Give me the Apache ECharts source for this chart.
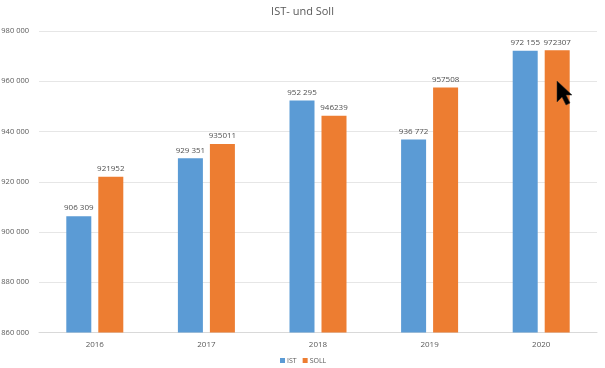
<!DOCTYPE html>
<html><head><meta charset="utf-8">
<style>html,body{margin:0;padding:0;background:#fff}#c{width:605px;height:368px}</style>
<script src="https://cdn.jsdelivr.net/npm/echarts@6/dist/echarts.min.js"></script>
</head><body><div id="c"></div>
<script>
const years = ['2016','2017','2018','2019','2020'];
const ist = [906309, 929351, 952295, 936772, 972155];
const soll = [921952, 935011, 946239, 957508, 972307];
const grp = v => String(v).replace(/(\d{3})(\d{3})/, '$1 $2');
const font = '"Open Sans"';
const chart = echarts.init(document.getElementById('c'), null, {renderer:'canvas'});
const lbl = {show:true, position:'top', distance:4, fontFamily:font, fontSize:8, color:'#505050'};
chart.setOption({
  animation:false,
  backgroundColor:'#fff',
  title:{text:'IST- und Soll', left:'center', top:1,
    textStyle:{fontFamily:font, fontSize:11, fontWeight:'normal', color:'#595959'}},
  legend:{data:['IST','SOLL'], top:352, left:275, itemWidth:5, itemHeight:5, itemGap:6,
    icon:'rect', textStyle:{fontFamily:font, fontSize:7, color:'#595959', padding:[0,0,0,-3]}},
  grid:{left:39, right:8, top:31, bottom:35.5, outerBoundsMode:'none'},
  xAxis:{type:'category', data:years,
    axisLine:{lineStyle:{color:'#d9d9d9', width:1}}, axisTick:{show:false},
    axisLabel:{fontFamily:font, fontSize:8, color:'#595959', margin:8}},
  yAxis:{type:'value', min:860000, max:980000, interval:20000,
    axisLine:{show:false}, axisTick:{show:false},
    splitLine:{lineStyle:{color:'#e6e6e6', width:1}},
    axisLabel:{fontFamily:font, fontSize:7.5, color:'#595959', margin:10, formatter:grp}},
  series:[
    {name:'IST', type:'bar', data:ist, barWidth:25, barGap:'28%', itemStyle:{color:'#5B9BD5'},
     label:Object.assign({}, lbl, {formatter:p => grp(p.value)})},
    {name:'SOLL', type:'bar', data:soll, barWidth:25, itemStyle:{color:'#ED7D31'},
     label:Object.assign({}, lbl)}
  ],
  graphic:[{type:'polygon', z:100,
    shape:{points:[[557,81],[557,102],[562,97],[566,105],[570,103],[566,95],[572,95]]},
    style:{fill:'#000', stroke:'#333', lineWidth:0.5}}]
});
</script></body></html>
